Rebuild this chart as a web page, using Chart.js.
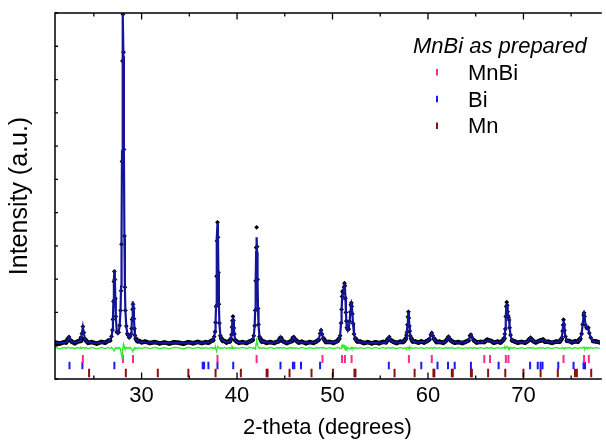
<!DOCTYPE html>
<html>
<head>
<meta charset="utf-8">
<script src="https://cdn.jsdelivr.net/npm/chart.js@4.4.1/dist/chart.umd.min.js"></script>
<style>
  html, body { margin: 0; padding: 0; background: #fff; overflow: hidden }
  canvas { display: block }
</style>
</head>
<body>
<canvas id="xrd" width="606" height="441"></canvas>
<script>
const FONT = "'Liberation Sans', Arial, sans-serif"

// observed / calculated profile (arbitrary units)
const twoTheta = [
    20.95, 21.4, 21.9, 22.1, 22.25, 22.4, 22.55, 22.7, 23.0, 23.3, 23.55, 23.65, 23.75, 23.85, 23.95, 24.05, 24.2, 24.4,
    24.8, 25.3, 25.8, 26.2,
    26.5, 26.7, 26.85, 26.95, 27.0, 27.05, 27.1, 27.15, 27.2, 27.25, 27.3, 27.4, 27.5, 27.6, 27.7, 27.8, 27.85, 27.9, 27.95, 28.0, 28.05, 28.1, 28.15, 28.2, 28.25, 28.3, 28.4, 28.5, 28.6, 28.7, 28.8, 28.9, 28.95, 29.0, 29.05, 29.1, 29.15, 29.2, 29.25, 29.3, 29.4, 29.55, 29.75, 30.0,
    30.4, 30.9, 31.4, 31.9, 32.4, 32.9, 33.4, 33.9, 34.4, 34.9, 35.4, 35.9, 36.3, 36.7, 37.0, 37.3,
    37.5, 37.6, 37.7, 37.75, 37.8, 37.85, 37.9, 37.95, 38.0, 38.05, 38.1, 38.15, 38.25, 38.35, 38.5, 38.7, 38.9, 39.1, 39.25, 39.35, 39.42, 39.47, 39.52, 39.57, 39.62, 39.67, 39.72, 39.8, 39.95,
    40.2, 40.6, 41.0, 41.3, 41.5, 41.65, 41.75, 41.85, 41.9, 41.95, 42.0, 42.05, 42.1, 42.15, 42.2, 42.25, 42.35, 42.45, 42.6, 42.8, 43.1,
    43.5, 43.9, 44.25, 44.4, 44.5, 44.6, 44.7, 44.85, 45.2, 45.55, 45.75, 45.85, 45.95, 46.05, 46.2, 46.45, 46.8, 47.2, 47.6, 48.0, 48.35, 48.55, 48.7, 48.8, 48.9, 49.05, 49.3, 49.7, 50.1,
    50.5, 50.7, 50.8, 50.9, 50.95, 51.0, 51.05, 51.1, 51.15, 51.2, 51.25, 51.3, 51.35, 51.4, 51.45, 51.5, 51.6, 51.7, 51.8, 51.87, 51.92, 51.97, 52.02, 52.08, 52.15, 52.25, 52.4, 52.6, 52.9, 53.3,
    53.7, 54.1, 54.5, 54.9, 55.3, 55.6, 55.8, 55.95, 56.1, 56.3, 56.7, 57.1, 57.4,
    57.6, 57.7, 57.75, 57.8, 57.85, 57.9, 57.95, 58.0, 58.05, 58.1, 58.15, 58.25, 58.4, 58.7, 59.0, 59.3, 59.6, 59.9, 60.15, 60.3, 60.4, 60.5, 60.65, 60.9, 61.2, 61.6, 61.9, 62.05, 62.15, 62.25, 62.45, 62.8, 63.2, 63.6, 64.0, 64.25, 64.4, 64.5, 64.6, 64.8, 65.1, 65.5, 65.9, 66.2, 66.4, 66.6, 66.9, 67.3, 67.6, 67.85,
    68.0, 68.05, 68.1, 68.15, 68.2, 68.25, 68.3, 68.35, 68.4, 68.45, 68.5, 68.55, 68.65, 68.8, 69.0, 69.4, 69.8, 70.2, 70.5, 70.65, 70.75, 70.85, 71.0, 71.3, 71.7, 71.9, 72.05, 72.25, 72.6, 73.0, 73.4, 73.8, 74.0, 74.1, 74.15, 74.2, 74.25, 74.3, 74.4, 74.55, 74.8, 75.1, 75.4, 75.7, 75.95, 76.1, 76.2, 76.3, 76.35, 76.4, 76.5, 76.6, 76.7, 76.8, 76.9, 77.05, 77.3, 77.6, 78.0
]
const iObs = [
    100, 60, 110, 95, 190, 265, 160, 120, 75, 125, 140, 230, 370, 575, 395, 200, 145, 85,
    110, 65, 115, 90,
    150, 160, 280, 470, 790, 1330, 1930, 2230, 1990, 1420, 880, 415, 385, 400, 610, 1060, 1650, 3050, 5540, 8560, 9960, 8820, 5900, 3300, 1760, 1060, 590, 360, 310, 245, 280, 350, 520, 790, 1090, 1250, 1120, 810, 520, 315, 210, 135, 140, 100,
    125, 80, 110, 70, 100, 65, 105, 90, 60, 110, 75, 115, 80, 110, 90, 145,
    170, 270, 420, 700, 1180, 2090, 3150, 3710, 3260, 2200, 1250, 680, 300, 220, 145, 140, 95, 130, 125, 200, 330, 560, 750, 880, 760, 530, 355, 170, 125,
    85, 110, 80, 125, 150, 175, 300, 600, 1060, 1950, 2950, 3560, 2980, 1990, 1120, 640, 270, 205, 125, 130, 85,
    110, 80, 125, 140, 225, 235, 160, 130, 80, 120, 140, 230, 265, 200, 155, 95, 120, 75, 110, 85, 135, 180, 370, 465, 350, 215, 110, 115, 85,
    140, 215, 300, 680, 1090, 1480, 1620, 1650, 1600, 1760, 1880, 1800, 1420, 1000, 740, 540, 480, 500, 730, 1010, 1230, 1290, 1180, 960, 670, 350, 215, 125, 125, 80,
    110, 70, 105, 75, 115, 100, 195, 265, 170, 130, 80, 120, 110,
    175, 220, 320, 400, 630, 870, 1020, 830, 590, 440, 290, 215, 125, 125, 90, 130, 95, 140, 190, 330, 385, 300, 205, 110, 120, 85, 150, 210, 275, 200, 145, 90, 110, 80, 125, 160, 300, 330, 255, 165, 95, 115, 110, 180, 160, 145, 90, 125, 95, 160,
    220, 350, 500, 880, 1180, 1310, 1220, 1020, 900, 840, 770, 540, 320, 160, 140, 90, 115, 90, 150, 200, 245, 190, 145, 100, 150, 165, 185, 120, 120, 85, 125, 120, 210, 440, 620, 780, 640, 460, 275, 150, 140, 100, 135, 120, 210, 360, 640, 920, 990, 880, 620, 540, 520, 540, 380, 245, 140, 130, 100
]
const iCalc = [
    82, 84, 90, 105, 170, 255, 170, 108, 95, 110, 150, 210, 380, 560, 380, 215, 130, 105,
    92, 88, 95, 105,
    130, 175, 258, 487, 817, 1375, 1998, 2285, 2013, 1404, 867, 433, 370, 417, 595, 1100, 1788, 3270, 5840, 8710, 10000, 8700, 5830, 3260, 1775, 1080, 570, 376, 294, 262, 263, 364, 534, 841, 1184, 1335, 1174, 824, 509, 326, 196, 148, 127, 116,
    105, 96, 92, 90, 88, 87, 86, 86, 87, 88, 90, 94, 92, 95, 105, 130,
    180, 253, 440, 692, 1232, 2168, 3212, 3690, 3212, 2168, 1232, 692, 314, 205, 160, 124, 112, 118, 135, 190, 340, 540, 770, 865, 770, 540, 340, 180, 115,
    95, 92, 98, 108, 140, 190, 285, 620, 1090, 1907, 2820, 3260, 2820, 1907, 1090, 620, 285, 190, 140, 115, 100,
    92, 95, 110, 150, 210, 225, 170, 115, 95, 105, 150, 220, 255, 215, 145, 110, 100, 92, 95, 100, 120, 190, 360, 450, 360, 200, 125, 100, 100,
    130, 200, 320, 700, 1050, 1400, 1560, 1560, 1560, 1690, 1800, 1760, 1480, 1050, 720, 560, 460, 520, 760, 1030, 1210, 1270, 1200, 980, 650, 360, 200, 140, 110, 95,
    90, 88, 88, 90, 95, 115, 180, 255, 180, 115, 95, 100, 125,
    165, 230, 300, 420, 610, 850, 1000, 850, 610, 420, 300, 200, 140, 110, 100, 115, 110, 130, 200, 320, 380, 310, 190, 120, 105, 100, 135, 220, 260, 215, 130, 105, 95, 98, 110, 170, 280, 320, 270, 150, 108, 100, 125, 165, 170, 130, 105, 110, 105, 150,
    230, 330, 520, 860, 1150, 1260, 1180, 1000, 880, 850, 760, 560, 300, 170, 125, 105, 100, 105, 140, 205, 230, 200, 135, 115, 140, 170, 175, 130, 105, 100, 108, 130, 220, 420, 600, 760, 650, 480, 260, 160, 125, 115, 120, 135, 200, 370, 620, 900, 960, 900, 640, 520, 540, 520, 390, 230, 150, 120, 110
]

// Bragg reflection positions for each phase
const mnbiRefl = [23.85, 28.05, 29.1, 37.95, 42.05, 48.95, 51.0, 51.3, 52.0, 58.0, 60.4, 65.9, 66.5, 68.16, 68.43, 74.2, 76.35, 76.85]
const biRefl = [22.45, 23.8, 27.15, 36.4, 36.55, 37.0, 37.95, 39.6, 44.55, 45.85, 46.0, 46.7, 48.7, 55.9, 59.3, 61.0, 62.1, 62.8, 64.5, 67.4, 70.7, 71.5, 71.8, 72.0, 73.65, 75.25, 76.3, 76.45]
const mnRefl = [24.5, 28.35, 31.7, 34.9, 37.75, 40.4, 43.1, 43.2, 45.5, 47.8, 50.05, 52.3, 52.4, 56.5, 58.6, 60.57, 60.67, 62.5, 62.6, 64.5, 64.6, 66.3, 68.1, 70.0, 71.8, 73.6, 75.4, 75.6, 77.1]

const phaseNames = ["MnBi", "Bi", "Mn"]
const phaseColors = ["#ff2a8a", "#1a1aff", "#8b1010"]
const sampleName = "MnBi as prepared"

const xTicks = [25, 30, 35, 40, 45, 50, 55, 60, 65, 70, 75]
const xLabelled = [30, 40, 50, 60, 70]
const yTicks = [-1000, 0, 1000, 2000, 3000, 4000, 5000, 6000, 7000, 8000, 9000, 10000]

// where the difference curve and the tick rows sit under the pattern
const DIFF_OFFSET = -70
const tickRows = [-400, -595, -820]
const tickHalf = [4, 3.7, 4.2]

const obsPts = twoTheta.map((x, i) => ({ x, y: iObs[i] }))
const calcPts = twoTheta.map((x, i) => ({ x, y: iCalc[i] }))
const diffPts = twoTheta.map((x, i) => ({ x, y: iObs[i] - iCalc[i] + DIFF_OFFSET }))

// thick black band only along the background, not up the peaks
const flat = c => Math.max(c.p0.parsed.y, c.p1.parsed.y) < 240

const phaseSets = [mnbiRefl, biRefl, mnRefl].map((refl, i) => ({
    data: refl.map(x => ({ x, y: tickRows[i] })),
    showLine: false,
    pointStyle: "line",
    pointRotation: 90,
    pointRadius: tickHalf[i],
    pointBorderColor: phaseColors[i],
    pointBorderWidth: 2,
    order: 4
}))

const framePlugin = {
    id: "frame",
    afterDatasetsDraw(chart) {
        const { ctx, chartArea: a, scales: { x, y } } = chart
        ctx.save()
        ctx.strokeStyle = "#000"
        ctx.lineWidth = 1.5
        ctx.beginPath()
        ctx.moveTo(a.right + 2, a.top)
        ctx.lineTo(a.left, a.top)
        ctx.lineTo(a.left, a.bottom)
        ctx.lineTo(a.right + 2, a.bottom)
        ctx.stroke()
        ctx.lineWidth = 1.3
        ctx.beginPath()
        xTicks.forEach(v => {
            const px = x.getPixelForValue(v)
            const len = xLabelled.includes(v) ? 6.5 : 3.5
            ctx.moveTo(px, a.bottom)
            ctx.lineTo(px, a.bottom - len)
            ctx.moveTo(px, a.top)
            ctx.lineTo(px, a.top + len)
        })
        yTicks.forEach(v => {
            const py = y.getPixelForValue(v)
            ctx.moveTo(a.left, py)
            ctx.lineTo(a.left + 3, py)
        })
        ctx.stroke()
        ctx.restore()
    }
}

const legendPlugin = {
    id: "phaseLegend",
    afterDraw(chart) {
        const ctx = chart.ctx
        ctx.save()
        ctx.fillStyle = "#000"
        ctx.textBaseline = "alphabetic"
        ctx.font = "italic 22px " + FONT
        ctx.fillText(sampleName, 413, 53)
        ctx.font = "22px " + FONT
        phaseNames.forEach((name, i) => {
            const yb = 80 + i * 26.7
            ctx.fillStyle = "#000"
            ctx.fillText(name, 468, yb)
            ctx.strokeStyle = phaseColors[i]
            ctx.lineWidth = 2
            ctx.beginPath()
            ctx.moveTo(437, yb - 11)
            ctx.lineTo(437, yb - 4.5)
            ctx.stroke()
        })
        ctx.restore()
    }
}

new Chart(document.getElementById("xrd"), {
    type: "scatter",
    data: {
        datasets: [
            {
                label: "Calculated",
                data: calcPts,
                showLine: true,
                borderColor: "#14149a",
                borderWidth: 2.2,
                pointRadius: 0,
                order: 1
            },
            {
                label: "Observed",
                data: obsPts,
                showLine: true,
                borderColor: "#000",
                borderWidth: 4.5,
                borderJoinStyle: "round",
                borderCapStyle: "round",
                segment: {
                    borderWidth: c => flat(c) ? 4.5 : 1,
                    borderColor: c => flat(c) ? "#000" : "rgba(0,0,0,0)"
                },
                pointStyle: "rectRot",
                pointRadius: 2.4,
                pointBackgroundColor: "#000",
                pointBorderColor: "#000",
                pointBorderWidth: 0,
                order: 2
            },
            {
                label: "Difference",
                data: diffPts,
                showLine: true,
                borderColor: "#2ee82e",
                borderWidth: 1.3,
                pointRadius: 0,
                order: 3
            },
            ...phaseSets
        ]
    },
    options: {
        responsive: false,
        animation: false,
        events: [],
        layout: { padding: { top: 13, right: 0, bottom: 0, left: 0 } },
        plugins: { legend: { display: false }, tooltip: { enabled: false } },
        scales: {
            x: {
                type: "linear",
                min: 20.93,
                max: 78,
                afterBuildTicks: s => { s.ticks = xTicks.map(v => ({ value: v })) },
                afterFit: s => { s.height = 62 },
                grid: { display: false, drawTicks: false },
                border: { display: false },
                ticks: {
                    autoSkip: false,
                    maxRotation: 0,
                    padding: 4,
                    color: "#000",
                    font: { family: FONT, size: 22 },
                    callback: v => xLabelled.includes(v) ? String(v) : ""
                },
                title: {
                    display: true,
                    text: "2-theta (degrees)",
                    color: "#000",
                    font: { family: FONT, size: 22 },
                    padding: { top: 0, bottom: 0 }
                }
            },
            y: {
                type: "linear",
                min: -1000,
                max: 10000,
                afterBuildTicks: s => { s.ticks = yTicks.map(v => ({ value: v })) },
                afterFit: s => { s.width = 55 },
                grid: { display: false, drawTicks: false },
                border: { display: false },
                ticks: { display: false },
                title: {
                    display: true,
                    text: "Intensity (a.u.)",
                    color: "#000",
                    font: { family: FONT, size: 25 },
                    padding: { top: 5, bottom: 0 }
                }
            }
        }
    },
    plugins: [framePlugin, legendPlugin]
})
</script>
</body>
</html>
